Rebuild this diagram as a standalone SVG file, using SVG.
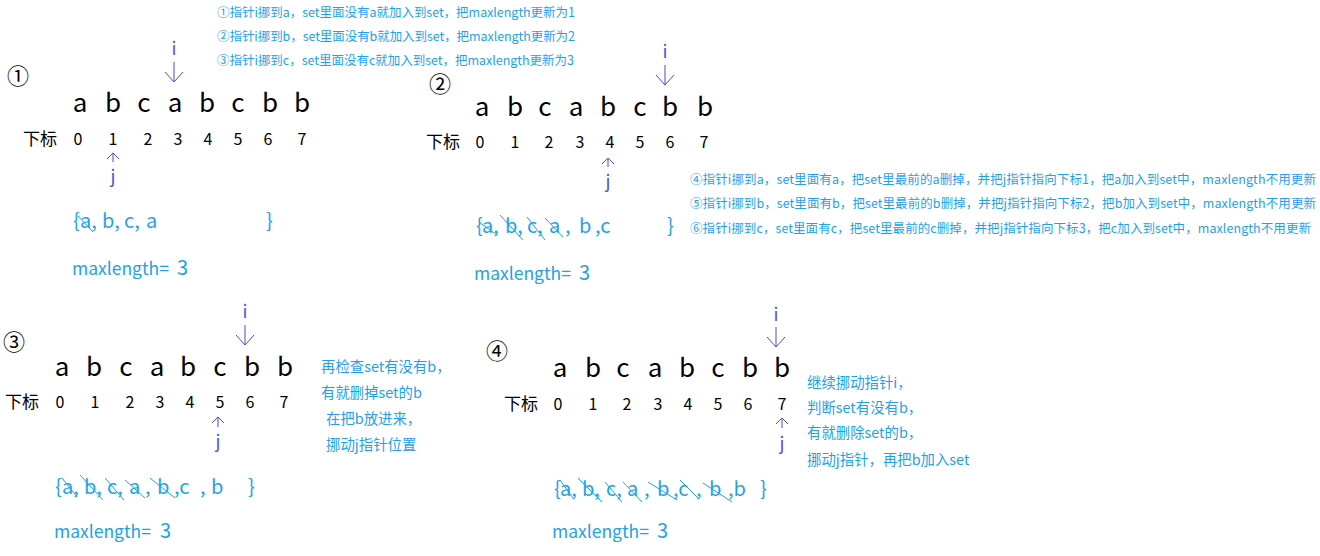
<svg xmlns="http://www.w3.org/2000/svg" width="1320" height="556" viewBox="0 0 1320 556">
<style>
text{font-family:"Noto Sans CJK SC","Noto Sans",sans-serif;}
.note{font-size:12.5px;fill:#1ea2e6;}
.note2{font-size:14.4px;fill:#1ea2e6;}
.num{font-size:22px;fill:#000;}
.let{font-size:26px;fill:#000;text-anchor:middle;}
.lab{font-size:17px;fill:#000;}
.dig{font-size:16px;fill:#000;text-anchor:middle;}
.ij{font-size:18px;fill:#5555d5;text-anchor:middle;}
.set{font-size:20px;fill:#1ea2e6;}
.ml{font-size:17.5px;fill:#1ea2e6;}
.ml3{font-size:20px;fill:#1ea2e6;}
.arr{stroke:#4a4ad0;stroke-width:1;fill:none;}
.strike{stroke:#1ea2e6;stroke-width:1;}
</style>
<rect width="1320" height="556" fill="#fff"/>
<g id="notes-top">
<text class="note" x="217" y="17" textLength="358">①指针i挪到a，set里面没有a就加入到set，把maxlength更新为1</text>
<text class="note" x="217" y="41" textLength="358">②指针i挪到b，set里面没有b就加入到set，把maxlength更新为2</text>
<text class="note" x="217" y="65" textLength="357">③指针i挪到c，set里面没有c就加入到set，把maxlength更新为3</text>
</g>
<g id="notes-right">
<text class="note" x="690" y="184" textLength="626">④指针i挪到a，set里面有a，把set里最前的a删掉，并把j指针指向下标1，把a加入到set中，maxlength不用更新</text>
<text class="note" x="690" y="208" textLength="626">⑤指针i挪到b，set里面有b，把set里最前的b删掉，并把j指针指向下标2，把b加入到set中，maxlength不用更新</text>
<text class="note" x="690" y="233" textLength="621">⑥指针i挪到c，set里面有c，把set里最前的c删掉，并把j指针指向下标3，把c加入到set中，maxlength不用更新</text>
</g>
<g id="panel1">
<text class="num" x="7" y="84">①</text>
<text class="let" y="112"><tspan x="80">a</tspan><tspan x="113">b</tspan><tspan x="144">c</tspan><tspan x="175">a</tspan><tspan x="207">b</tspan><tspan x="238">c</tspan><tspan x="270">b</tspan><tspan x="302">b</tspan></text>
<text class="lab" x="23" y="145">下标</text>
<text class="dig" y="145"><tspan x="78">0</tspan><tspan x="113">1</tspan><tspan x="148">2</tspan><tspan x="178">3</tspan><tspan x="208">4</tspan><tspan x="238">5</tspan><tspan x="268">6</tspan><tspan x="302">7</tspan></text>
<text class="ij" x="174" y="55">i</text>
<text class="ij" x="113" y="183">j</text>
<text class="set" y="228"><tspan x="73">{</tspan><tspan x="80">a,</tspan><tspan x="102">b,</tspan><tspan x="124">c,</tspan><tspan x="146">a</tspan><tspan x="266">}</tspan></text>
<line class="strike" x1="78" y1="216" x2="93" y2="232"/>
<text class="ml" x="72" y="275">maxlength=</text>
<text class="ml3" x="177" y="275">3</text>
</g>
<g id="panel2">
<text class="num" x="429" y="92">②</text>
<text class="let" y="116"><tspan x="482">a</tspan><tspan x="515">b</tspan><tspan x="545">c</tspan><tspan x="576">a</tspan><tspan x="608">b</tspan><tspan x="640">c</tspan><tspan x="670">b</tspan><tspan x="705">b</tspan></text>
<text class="lab" x="426" y="148">下标</text>
<text class="dig" y="148"><tspan x="480">0</tspan><tspan x="515">1</tspan><tspan x="549">2</tspan><tspan x="580">3</tspan><tspan x="610">4</tspan><tspan x="640">5</tspan><tspan x="670">6</tspan><tspan x="704">7</tspan></text>
<text class="ij" x="665" y="58">i</text>
<text class="ij" x="608" y="188">j</text>
<text class="set" y="233"><tspan x="476">{</tspan><tspan x="482">a,</tspan><tspan x="505">b,</tspan><tspan x="527">c,</tspan><tspan x="549">a</tspan><tspan x="565">,</tspan><tspan x="579">b</tspan><tspan x="595">,c</tspan><tspan x="667">}</tspan></text>
<line class="strike" x1="479" y1="222" x2="497" y2="235"/>
<line class="strike" x1="500" y1="215" x2="523" y2="240"/>
<line class="strike" x1="527" y1="217" x2="545" y2="240"/>
<line class="strike" x1="545" y1="218" x2="563" y2="237"/>
<text class="ml" x="474" y="280">maxlength=</text>
<text class="ml3" x="579" y="280">3</text>
</g>
<g id="panel3">
<text class="num" x="3" y="350">③</text>
<text class="let" y="376"><tspan x="62">a</tspan><tspan x="94">b</tspan><tspan x="126">c</tspan><tspan x="157">a</tspan><tspan x="188">b</tspan><tspan x="220">c</tspan><tspan x="252">b</tspan><tspan x="285">b</tspan></text>
<text class="lab" x="5" y="408">下标</text>
<text class="dig" y="408"><tspan x="60">0</tspan><tspan x="95">1</tspan><tspan x="130">2</tspan><tspan x="160">3</tspan><tspan x="190">4</tspan><tspan x="220">5</tspan><tspan x="250">6</tspan><tspan x="284">7</tspan></text>
<text class="ij" x="245" y="318">i</text>
<text class="ij" x="218" y="448">j</text>
<text class="note2" x="321" y="372">再检查set有没有b，</text>
<text class="note2" x="321" y="398">有就删掉set的b</text>
<text class="note2" x="326" y="424">在把b放进来，</text>
<text class="note2" x="326" y="450">挪动j指针位置</text>
<text class="set" y="494"><tspan x="55">{</tspan><tspan x="62">a,</tspan><tspan x="84">b,</tspan><tspan x="107">c,</tspan><tspan x="129">a</tspan><tspan x="145">,</tspan><tspan x="157">b</tspan><tspan x="174">,c</tspan><tspan x="200">,</tspan><tspan x="211">b</tspan><tspan x="248">}</tspan></text>
<line class="strike" x1="62" y1="478" x2="77" y2="497"/>
<line class="strike" x1="80" y1="475" x2="103" y2="500"/>
<line class="strike" x1="105" y1="478" x2="124" y2="500"/>
<line class="strike" x1="125" y1="480" x2="145" y2="498"/>
<line class="strike" x1="150" y1="478" x2="175" y2="498"/>
<text class="ml" x="54" y="538">maxlength=</text>
<text class="ml3" x="160" y="538">3</text>
</g>
<g id="panel4">
<text class="num" x="486" y="359">④</text>
<text class="let" y="377"><tspan x="560">a</tspan><tspan x="593">b</tspan><tspan x="623">c</tspan><tspan x="655">a</tspan><tspan x="687">b</tspan><tspan x="718">c</tspan><tspan x="750">b</tspan><tspan x="782">b</tspan></text>
<text class="lab" x="504" y="410">下标</text>
<text class="dig" y="410"><tspan x="558">0</tspan><tspan x="593">1</tspan><tspan x="627">2</tspan><tspan x="658">3</tspan><tspan x="688">4</tspan><tspan x="718">5</tspan><tspan x="748">6</tspan><tspan x="782">7</tspan></text>
<text class="ij" x="776" y="321">i</text>
<text class="ij" x="782" y="450">j</text>
<text class="note2" x="807" y="388">继续挪动指针i，</text>
<text class="note2" x="807" y="413">判断set有没有b，</text>
<text class="note2" x="807" y="438">有就删除set的b，</text>
<text class="note2" x="807" y="465">挪动j指针，再把b加入set</text>
<text class="set" y="496"><tspan x="554">{</tspan><tspan x="560">a,</tspan><tspan x="582">b,</tspan><tspan x="606">c,</tspan><tspan x="627">a</tspan><tspan x="644">,</tspan><tspan x="657">b</tspan><tspan x="673">,c</tspan><tspan x="696">,</tspan><tspan x="709">b</tspan><tspan x="728">,b</tspan><tspan x="760">}</tspan></text>
<line class="strike" x1="560" y1="480" x2="573" y2="498"/>
<line class="strike" x1="578" y1="478" x2="602" y2="502"/>
<line class="strike" x1="605" y1="482" x2="622" y2="502"/>
<line class="strike" x1="623" y1="482" x2="642" y2="502"/>
<line class="strike" x1="648" y1="482" x2="677" y2="500"/>
<line class="strike" x1="680" y1="480" x2="698" y2="498"/>
<line class="strike" x1="703" y1="483" x2="732" y2="502"/>
<text class="ml" x="552" y="538">maxlength=</text>
<text class="ml3" x="657" y="538">3</text>
</g>
<g id="connectors">
<path class="arr" d="M174,62 V82 M165,72 L174,82 L183,72"/>
<path class="arr" d="M113,153 V162 M107,159 L113,153 L119,159"/>
<path class="arr" d="M665,65 V85 M656,75 L665,85 L674,75"/>
<path class="arr" d="M608,158 V167 M602,164 L608,158 L614,164"/>
<path class="arr" d="M245,325 V345 M236,335 L245,345 L254,335"/>
<path class="arr" d="M218,417 V427 M212,423 L218,417 L224,423"/>
<path class="arr" d="M776,327 V347 M767,337 L776,347 L785,337"/>
<path class="arr" d="M782,418 V428 M776,424 L782,418 L788,424"/>
</g>
</svg>
